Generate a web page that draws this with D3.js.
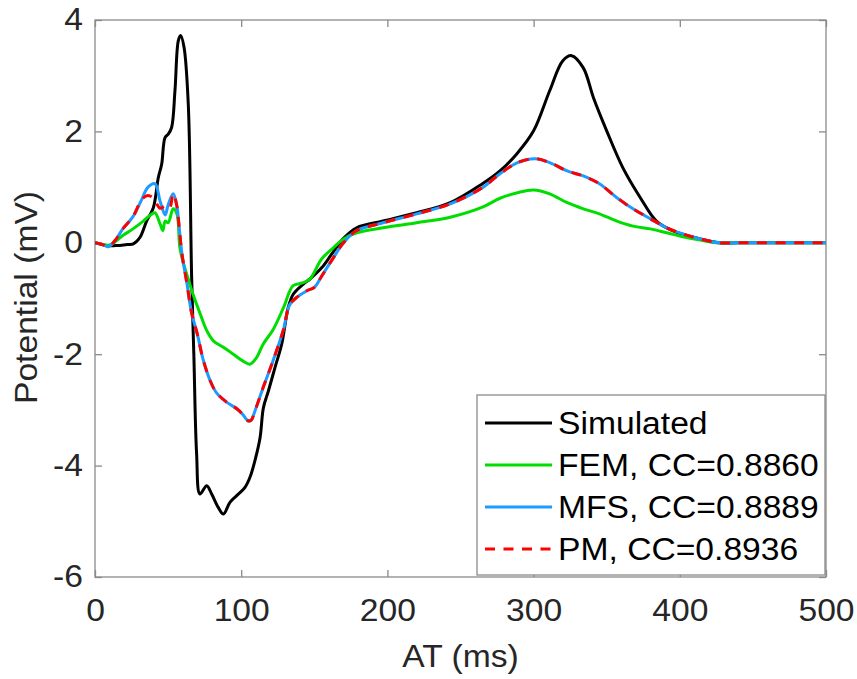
<!DOCTYPE html>
<html>
<head>
<meta charset="utf-8">
<script src="https://cdn.jsdelivr.net/npm/d3@7"></script>
<style>
  html, body { margin: 0; padding: 0; background: #fff; }
  svg { display: block; }
  text { font-family: "Liberation Sans", Arial, Helvetica, sans-serif; }
</style>
</head>
<body>
<svg id="chart" width="857" height="679"></svg>
<script>
// ---- data (time in ms, potential in mV) ----
const simT = [0, 8, 15, 22, 26.2, 30.8, 35.3, 39.9, 43.3, 45.6, 47.9, 50.1, 52.4, 54.7, 57, 58.6, 60.9, 63.8, 66.1, 67.6, 69.5, 71.8, 76.4, 79.8, 84.3, 87.8, 92.3, 96.9, 102.6, 106, 109.4, 112.9, 115.2, 118.6, 123.1, 127.7, 132.2, 135.7, 142.5, 147, 155, 162, 170, 179, 197, 220, 243, 265, 277, 288.6, 300, 311, 320, 326, 334, 341, 350, 361, 373, 384, 395, 414, 427, 440, 500];
const simV = [0, -0.05, -0.05, -0.03, -0.02, 0.1, 0.39, 0.63, 1.17, 1.41, 1.89, 1.95, 2.07, 2.73, 3.63, 3.72, 3.51, 2.49, -0.62, -2.0, -3.79, -4.51, -4.36, -4.51, -4.75, -4.87, -4.66, -4.54, -4.39, -4.21, -3.91, -3.5, -2.96, -2.66, -2.24, -1.82, -1.16, -0.92, -0.74, -0.65, -0.45, -0.2, 0.08, 0.27, 0.39, 0.54, 0.72, 1.06, 1.29, 1.6, 2.01, 2.73, 3.27, 3.36, 3.14, 2.6, 2.01, 1.35, 0.81, 0.39, 0.22, 0.07, 0, 0, 0];

const femT = [0, 5, 10, 19, 26, 33, 39, 41, 44.5, 46.4, 48, 50, 53.5, 56, 58, 60, 63.5, 67, 72, 76.5, 81, 88, 94.6, 101, 106, 110.5, 115, 122, 129, 135.5, 142, 147, 155, 163, 170, 179, 197, 220, 243, 265, 277, 289, 300, 311, 323, 334, 345, 357, 368, 380, 391, 402, 414, 425, 440, 500];
const femV = [0, -0.03, -0.04, 0.13, 0.25, 0.39, 0.52, 0.54, 0.34, 0.22, 0.39, 0.36, 0.61, 0.52, -0.08, -0.32, -0.63, -0.92, -1.28, -1.58, -1.76, -1.88, -2.0, -2.12, -2.18, -2.06, -1.82, -1.55, -1.16, -0.77, -0.72, -0.65, -0.29, -0.09, 0.07, 0.18, 0.27, 0.36, 0.46, 0.64, 0.8, 0.9, 0.95, 0.88, 0.72, 0.61, 0.52, 0.39, 0.3, 0.25, 0.18, 0.11, 0.05, 0, 0, 0];

const mfsT = [0, 5, 9, 14, 19, 26, 32, 36, 41, 44.5, 48, 50, 53.5, 56, 57.5, 59.5, 63, 66, 70, 74, 78.7, 83, 90, 97, 101, 105, 107, 109, 115, 122, 129, 133, 138, 145, 150, 155, 163, 170, 179, 197, 220, 243, 265, 277, 289, 301, 311, 323, 334, 345, 357, 368, 380, 391, 402, 414, 427, 440, 500];
const mfsV = [0, -0.03, -0.07, 0.05, 0.25, 0.47, 0.78, 0.99, 1.06, 0.75, 0.5, 0.68, 0.88, 0.66, 0.3, -0.2, -0.75, -1.25, -1.64, -2.1, -2.47, -2.69, -2.86, -2.98, -3.08, -3.2, -3.18, -3.05, -2.6, -2.1, -1.55, -1.12, -0.98, -0.86, -0.8, -0.6, -0.27, 0.0, 0.22, 0.36, 0.52, 0.7, 0.99, 1.24, 1.44, 1.51, 1.44, 1.29, 1.2, 1.06, 0.81, 0.61, 0.43, 0.27, 0.16, 0.07, 0, 0, 0];

const pmT = [0, 5, 9, 14, 19, 26, 32, 36, 40, 44.5, 48, 51, 53.5, 56, 57.5, 59.5, 63, 66, 70, 74, 78.7, 83, 90, 97, 101, 105, 107, 109, 115, 122, 129, 133, 138, 145, 150, 155, 163, 170, 179, 197, 220, 243, 265, 277, 289, 301, 311, 323, 334, 345, 357, 368, 380, 391, 402, 414, 427, 440, 500];
const pmV = [0, -0.03, -0.07, 0.05, 0.25, 0.47, 0.78, 0.85, 0.8, 0.62, 0.66, 0.62, 0.88, 0.66, 0.3, -0.2, -0.75, -1.25, -1.64, -2.1, -2.47, -2.69, -2.86, -2.98, -3.08, -3.2, -3.18, -3.05, -2.6, -2.1, -1.55, -1.12, -0.98, -0.86, -0.8, -0.6, -0.27, 0.0, 0.22, 0.36, 0.52, 0.7, 0.99, 1.24, 1.44, 1.51, 1.44, 1.29, 1.2, 1.06, 0.81, 0.61, 0.43, 0.27, 0.16, 0.07, 0, 0, 0];

const seriesNames = ["Simulated", "FEM, CC=0.8860", "MFS, CC=0.8889", "PM, CC=0.8936"];
const xTicks = [0, 100, 200, 300, 400, 500];
const yTicks = [-6, -4, -2, 0, 2, 4];
const xLabel = "AT (ms)";
const yLabel = "Potential (mV)";

// ---- layout ----
const L = 95, R = 826, T = 20, B = 577;
const FS = 31;
const STRETCH = 1.085;
const boxColor = "#8a8a8a";
const textColor = "#262626";

const svg = d3.select("#chart");
const x = d3.scaleLinear().domain([0, 500]).range([L, R]);
const y = d3.scaleLinear().domain([-6, 4]).range([B, T]);

// box
svg.append("rect").attr("x", L).attr("y", T).attr("width", R - L).attr("height", B - T)
  .attr("fill", "#fff").attr("stroke", boxColor).attr("stroke-width", 1.3);

function styleAxis(g, showText) {
  g.select(".domain").remove();
  g.selectAll(".tick line").attr("stroke", boxColor).attr("stroke-width", 1.3);
  g.selectAll(".tick text").attr("fill", textColor).attr("font-size", FS)
    .attr("font-family", '"Liberation Sans", Arial, sans-serif');
  if (!showText) g.selectAll(".tick text").remove();
}

svg.append("g").attr("transform", `translate(0,${B})`)
  .call(d3.axisBottom(x).tickValues(xTicks).tickFormat(d3.format("d")).tickSize(-7).tickPadding(22))
  .call(g => styleAxis(g, true));
svg.append("g").attr("transform", `translate(0,${T})`)
  .call(d3.axisTop(x).tickValues(xTicks).tickSize(-7))
  .call(g => styleAxis(g, false));
svg.append("g").attr("transform", `translate(${L},0)`)
  .call(d3.axisLeft(y).tickValues(yTicks).tickFormat(d3.format("d")).tickSize(-7).tickPadding(12))
  .call(g => styleAxis(g, true));
svg.append("g").attr("transform", `translate(${R},0)`)
  .call(d3.axisRight(y).tickValues(yTicks).tickSize(-7))
  .call(g => styleAxis(g, false));

// plain hyphen minus like the reference
svg.selectAll(".tick text").text(function() { return this.textContent.replace("\u2212", "-"); });

// axis labels
svg.append("text").attr("x", (L + R) / 2).attr("y", 667).attr("text-anchor", "middle")
  .attr("font-size", FS).attr("fill", textColor).text(xLabel);
svg.append("text").attr("transform", `translate(37,${(T + B) / 2 - 1}) rotate(-90)`)
  .attr("text-anchor", "middle").attr("font-size", FS).attr("fill", textColor).text(yLabel);

// lines
svg.append("clipPath").attr("id", "clip").append("rect")
  .attr("x", L).attr("y", T).attr("width", R - L).attr("height", B - T);

const series = [
  { t: simT, v: simV, color: "#000000", dash: null },
  { t: femT, v: femV, color: "#00dd00", dash: null },
  { t: mfsT, v: mfsV, color: "#1e9bff", dash: null },
  { t: pmT, v: pmV, color: "#ff0000", dash: "10,8.5" }
];
const line = d3.line().x(d => x(d[0])).y(d => y(d[1])).curve(d3.curveCatmullRom.alpha(0.5));
const gLines = svg.append("g").attr("clip-path", "url(#clip)");
series.forEach(s => {
  const pts = s.t.map((t, i) => [t, s.v[i]]);
  gLines.append("path").datum(pts).attr("d", line)
    .attr("fill", "none").attr("stroke", s.color).attr("stroke-width", 3)
    .attr("stroke-linejoin", "round")
    .attr("stroke-dasharray", s.dash);
});

// legend
const lg = svg.append("g");
const lgX = 477, lgY = 395, lgW = 348, lgH = 180;
lg.append("rect").attr("x", lgX).attr("y", lgY).attr("width", lgW).attr("height", lgH)
  .attr("fill", "#fff").attr("stroke", boxColor).attr("stroke-width", 1.3);
const rowY = [423, 465, 507, 549];
series.forEach((s, i) => {
  lg.append("line").attr("x1", 485).attr("x2", 552).attr("y1", rowY[i]).attr("y2", rowY[i])
    .attr("stroke", s.color).attr("stroke-width", 3).attr("stroke-dasharray", s.dash);
  lg.append("text").attr("x", 558).attr("y", rowY[i]).attr("dy", "0.36em")
    .attr("font-size", FS).attr("fill", "#000").text(seriesNames[i]);
});

// the reference glyphs are slightly wider than Liberation Sans: stretch horizontally
svg.selectAll("text").each(function() {
  const w = this.getComputedTextLength();
  d3.select(this).attr("textLength", w * STRETCH).attr("lengthAdjust", "spacingAndGlyphs");
});
</script>
</body>
</html>
